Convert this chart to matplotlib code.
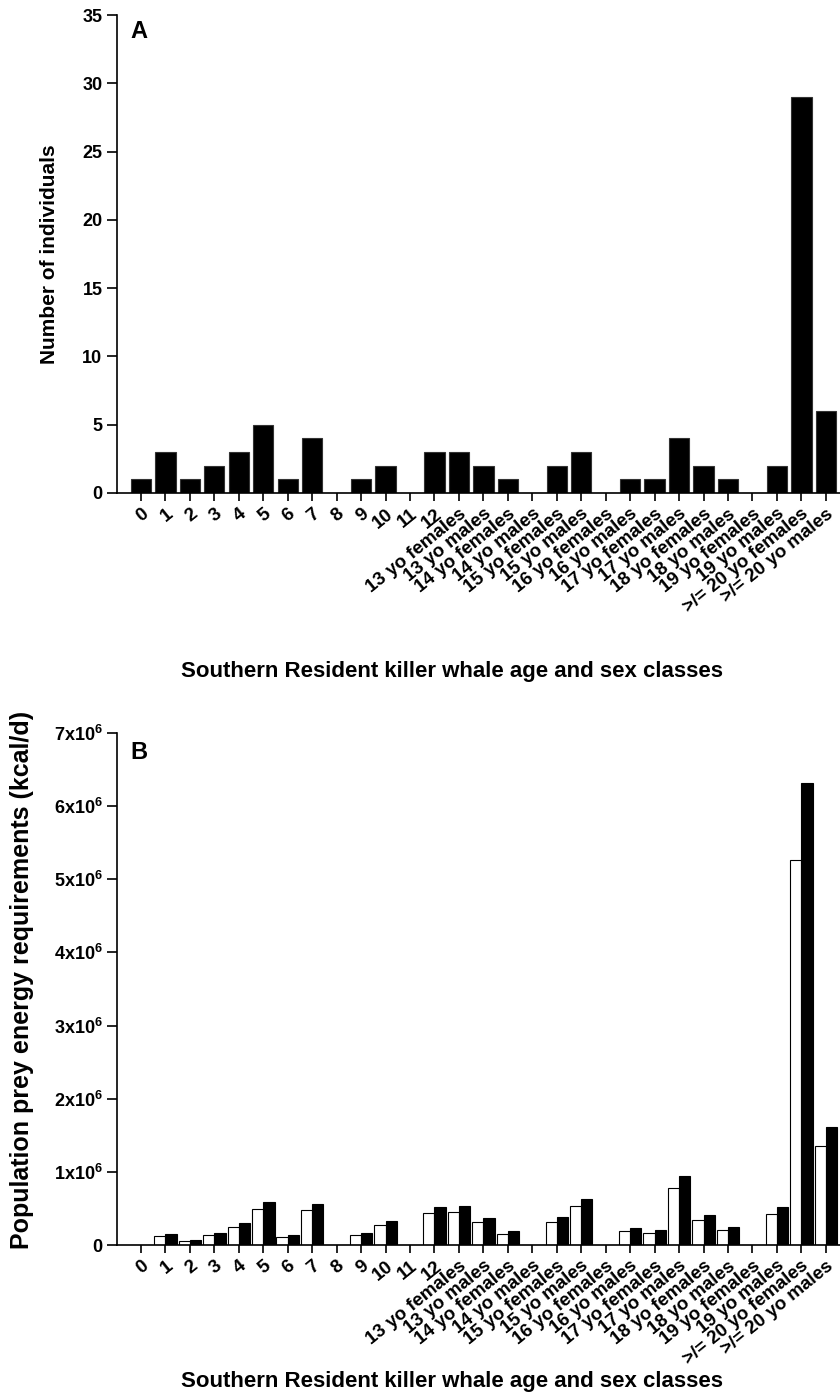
import numpy as np
import matplotlib
matplotlib.use("Agg")
import matplotlib.pyplot as plt

plt.rcParams['font.family'] = ['Liberation Sans', 'DejaVu Sans']
plt.rcParams['font.weight'] = 'bold'
plt.rcParams['mathtext.fontset'] = 'custom'
plt.rcParams['mathtext.rm'] = 'Liberation Sans:bold'
plt.rcParams['mathtext.it'] = 'Liberation Sans:bold'
plt.rcParams['mathtext.bf'] = 'Liberation Sans:bold'

# Clases de edad y sexo
clases = ["0", "1", "2", "3", "4", "5", "6", "7", "8", "9", "10", "11", "12",
          "13 yo females", "13 yo males", "14 yo females", "14 yo males",
          "15 yo females", "15 yo males", "16 yo females", "16 yo males",
          "17 yo females", "17 yo males", "18 yo females", "18 yo males",
          "19 yo females", "19 yo males", ">/= 20 yo females", ">/= 20 yo males"]

# Panel A: numero de individuos
individuos = [1, 3, 1, 2, 3, 5, 1, 4, 0, 1, 2, 0, 3,
              3, 2, 1, 0, 2, 3, 0, 1, 1, 4, 2, 1, 0, 2, 29, 6]

# Panel B: requerimientos energeticos (kcal/d), barras blancas y negras
energia_blanca = [0, 0.123e6, 0.05e6, 0.14e6, 0.25e6, 0.49e6, 0.105e6, 0.475e6, 0,
                  0.132e6, 0.274e6, 0, 0.434e6,
                  0.447e6, 0.31e6, 0.15e6, 0, 0.315e6, 0.53e6, 0, 0.187e6,
                  0.169e6, 0.785e6, 0.342e6, 0.205e6, 0, 0.43e6, 5.26e6, 1.347e6]
energia_negra = [0, 0.15e6, 0.068e6, 0.17e6, 0.306e6, 0.585e6, 0.132e6, 0.566e6, 0,
                 0.16e6, 0.329e6, 0, 0.525e6,
                 0.539e6, 0.374e6, 0.187e6, 0, 0.384e6, 0.635e6, 0, 0.228e6,
                 0.205e6, 0.945e6, 0.416e6, 0.25e6, 0, 0.516e6, 6.32e6, 1.62e6]

y_ticks_b = [0, 1e6, 2e6, 3e6, 4e6, 5e6, 6e6, 7e6]
y_labels_b = ["0"] + [f"{i}x10$^{{6}}$" for i in range(1, 8)]

x = np.arange(len(clases))
xlabel = "Southern Resident killer whale age and sex classes"

W, H = 840, 1397
fig = plt.figure(figsize=(W / 100, H / 100), dpi=100)
ax_a = fig.add_axes([117 / W, 1 - 493 / H, 723 / W, 478 / H])
ax_b = fig.add_axes([117 / W, 1 - 1245 / H, 723 / W, 512 / H])


def estilo(ax):
    ax.spines["top"].set_visible(False)
    ax.spines["right"].set_visible(False)
    ax.spines["left"].set_linewidth(1.2)
    ax.spines["bottom"].set_linewidth(1.2)
    ax.tick_params(axis="y", direction="out", length=7, width=1.2, labelsize=13)
    ax.tick_params(axis="x", direction="out", length=6, width=1.2, labelsize=13.5,
                   pad=3)
    ax.set_xticks(x)
    ax.set_xticklabels(clases, rotation=39, ha="right", rotation_mode="anchor")
    ax.set_xlim(-0.98, 28.58)


# Panel A
ax_a.bar(x, individuos, width=0.83, color="black", edgecolor="#333333", linewidth=0.8)
estilo(ax_a)
ax_a.set_ylim(0, 35)
ax_a.set_yticks(range(0, 36, 5))
ax_a.text(0.018, 0.99, "A", transform=ax_a.transAxes, fontsize=17,
          fontweight="bold", va="top", ha="left")
fig.text(50 / W, 1 - 254 / H, "Number of individuals", rotation=90,
         fontsize=15, fontweight="bold", ha="center", va="center")
fig.text(452 / W, 1 - 672 / H, xlabel, fontsize=16, fontweight="bold",
         ha="center", va="center")

# Panel B
ancho = 0.46
ax_b.bar(x - ancho / 2, energia_blanca, width=ancho, color="white",
         edgecolor="black", linewidth=0.8)
ax_b.bar(x + ancho / 2, energia_negra, width=ancho, color="black",
         edgecolor="black", linewidth=0.8)
estilo(ax_b)
ax_b.set_ylim(0, 7e6)
ax_b.set_yticks(y_ticks_b)
ax_b.set_yticklabels(y_labels_b)
ax_b.text(0.018, 0.985, "B", transform=ax_b.transAxes, fontsize=17,
          fontweight="bold", va="top", ha="left")
fig.text(22 / W, 1 - 980 / H, "Population prey energy requirements (kcal/d)",
         rotation=90, fontsize=18, fontweight="bold", ha="center", va="center")
fig.text(452 / W, 1 - 1381 / H, xlabel, fontsize=16, fontweight="bold",
         ha="center", va="center")

plt.savefig("out.png", dpi=100)
plt.close()
